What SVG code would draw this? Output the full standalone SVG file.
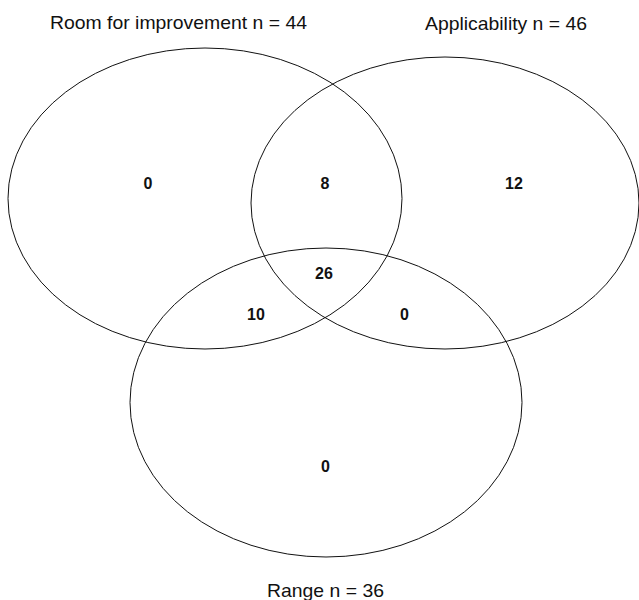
<svg xmlns="http://www.w3.org/2000/svg" width="639" height="600" viewBox="0 0 639 600">
<style>
.set{fill:none;stroke:#111;stroke-width:1}
.title{font-family:"Liberation Sans",Arial,sans-serif;font-size:19px;fill:#111}
.num{font-family:"Liberation Sans",Arial,sans-serif;font-size:16px;font-weight:bold;fill:#111;text-anchor:middle}
</style>
<rect width="639" height="600" fill="#fff"/>
<g id="set-room">
<ellipse class="set" cx="205" cy="198.5" rx="197" ry="150.5"/>
<text class="title" x="50" y="29" textLength="257" lengthAdjust="spacingAndGlyphs">Room for improvement n = 44</text>
</g>
<g id="set-applicability">
<ellipse class="set" cx="445" cy="203" rx="194" ry="146"/>
<text class="title" x="425" y="30" textLength="162" lengthAdjust="spacingAndGlyphs">Applicability n = 46</text>
</g>
<g id="set-range">
<ellipse class="set" cx="326" cy="402.5" rx="196" ry="154.5"/>
<text class="title" x="267" y="597" textLength="117" lengthAdjust="spacingAndGlyphs">Range n = 36</text>
</g>
<g id="counts">
<text class="num" x="148" y="188.5">0</text>
<text class="num" x="325" y="188.5">8</text>
<text class="num" x="514" y="188.5">12</text>
<text class="num" x="324" y="279">26</text>
<text class="num" x="256" y="320">10</text>
<text class="num" x="404.5" y="320">0</text>
<text class="num" x="325.5" y="472">0</text>
</g>
</svg>
